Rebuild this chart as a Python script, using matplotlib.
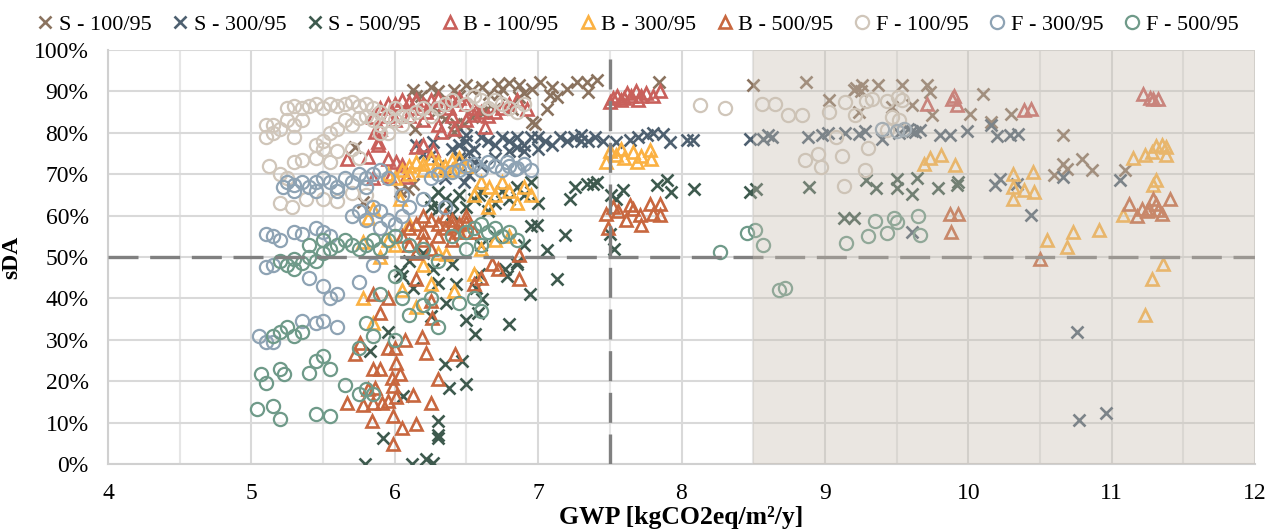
import matplotlib
matplotlib.use("Agg")
import matplotlib.pyplot as plt
from matplotlib.ticker import MultipleLocator, FuncFormatter

plt.rcParams['font.family'] = ['Liberation Serif', 'DejaVu Serif']

# --- data (GWP, sDA %) ---
s100_x = [6.13, 6.18, 6.25, 6.15, 6.41, 6.45, 6.54, 6.61, 6.66, 6.72, 6.73, 6.87, 6.96, 6.75, 7.01, 7.08, 7.13,
          7.06, 6.87, 6.98, 7.27, 7.34, 7.41, 7.35, 7.84, 6.27, 6.32, 6.29, 6.35, 6.43, 6.48, 6.14, 6.41, 6.54,
          6.60, 6.62, 6.69, 6.82, 6.96, 6.13, 6.09, 6.04, 5.78, 5.72, 6.30, 6.50, 6.80, 6.90, 7.10, 7.20,
          8.50, 8.87, 9.03, 9.20, 9.26, 9.37, 9.54, 9.71, 9.73, 9.47, 9.61, 9.24, 9.75, 10.01, 10.10, 10.16,
          10.30, 10.66, 10.66, 10.79, 10.86, 10.60, 11.09, 10.69, 9.22, 9.25]
s100_y = [90.4, 89.0, 91.0, 89.0, 90.4, 89.0, 90.4, 91.0, 89.4, 91.8, 89.4, 91.6, 90.6, 90.6, 92.3, 89.1, 88.7,
          85.8, 88.7, 82.2, 92.3, 92.3, 92.8, 89.9, 92.3, 86.0, 84.3, 85.0, 83.4, 82.2, 82.2, 81.0, 80.2, 83.9,
          85.0, 85.0, 85.8, 85.8, 82.6, 67.7, 66.5, 66.0, 63.4, 76.6, 90.0, 91.5, 92.0, 89.5, 91.0, 90.5,
          91.6, 92.3, 88.0, 90.4, 91.6, 91.6, 91.6, 91.6, 89.9, 86.3, 86.7, 85.1, 84.3, 84.6, 89.4, 82.6,
          84.6, 79.5, 72.5, 73.7, 71.1, 69.9, 71.1, 71.3, 90.8, 90.0]

s300_x = [6.25, 6.27, 6.30, 6.35, 6.40, 6.45, 6.45, 6.50, 6.52, 6.55, 6.55, 6.60, 6.60, 6.65, 6.70, 6.70, 6.75,
          6.80, 6.85, 6.90, 6.95, 7.00, 7.05, 7.10, 7.15, 7.20, 7.25, 7.30, 7.35, 7.40, 7.45, 7.54, 7.64, 7.70,
          7.76, 7.80, 7.87, 7.92, 8.04, 8.08, 6.90, 7.00, 6.80, 6.15, 6.20, 6.50, 6.85, 7.30, 6.52, 6.48,
          8.48, 8.57, 8.63, 8.60, 8.88, 8.98, 9.02, 9.14, 9.24, 9.28, 9.40, 9.52, 9.61, 9.66, 9.80, 9.87, 9.99,
          10.16, 10.20, 10.29, 10.35, 10.19, 10.22, 10.34, 10.66, 11.06, 10.44, 9.61, 10.76, 10.77, 10.96,
          9.63, 9.58]
s300_y = [74.7, 77.8, 72.0, 69.0, 76.0, 77.0, 74.0, 78.0, 75.4, 76.0, 73.0, 79.0, 72.0, 78.0, 77.0, 74.0, 79.0,
          78.0, 79.0, 77.0, 79.0, 79.0, 78.0, 77.0, 79.0, 78.0, 79.0, 79.5, 78.0, 79.0, 78.0, 77.8, 78.3, 79.0,
          79.5, 80.0, 79.8, 77.8, 78.3, 78.3, 75.5, 76.0, 75.5, 77.0, 75.0, 79.5, 76.5, 78.0, 69.9, 68.0,
          78.5, 78.5, 79.0, 79.5, 79.0, 79.5, 80.0, 80.0, 79.8, 80.5, 78.5, 80.0, 80.5, 80.7, 79.5, 79.5, 80.5,
          81.9, 79.3, 79.5, 79.8, 67.5, 68.9, 67.7, 69.4, 68.7, 60.2, 56.1, 32.0, 10.6, 12.3,
          80.2, 80.8]

s500_x = [6.25, 6.25, 6.30, 6.30, 6.35, 6.40, 6.45, 6.50, 6.55, 6.59, 6.60, 6.75, 6.80, 6.85, 6.90, 6.95, 7.00,
          7.22, 7.26, 7.34, 7.38, 7.41, 7.51, 7.54, 7.59, 7.83, 7.90, 7.93, 8.09, 6.70, 6.65, 6.40,
          6.99, 6.95, 7.19, 7.06, 7.13, 6.94, 6.85, 6.77, 6.85, 6.78, 6.59, 6.57, 6.43, 6.40, 6.27, 6.30, 6.13,
          6.04, 6.05, 6.36, 6.61, 6.25, 6.50, 6.58, 6.56, 6.80, 5.83, 5.95, 6.35, 6.47, 6.38, 6.50, 6.06, 6.30,
          6.30, 6.30, 6.12, 6.22, 6.27, 5.79, 5.92, 7.53, 7.50, 6.60, 6.70, 6.90, 6.20, 6.10,
          8.48, 8.52, 8.89, 9.13, 9.20, 9.29, 9.36, 9.50, 9.50, 9.61, 9.64, 9.79, 9.92, 9.93]
s500_y = [64.0, 62.0, 65.6, 61.5, 64.0, 63.0, 65.0, 62.0, 64.0, 65.0, 66.0, 66.0, 64.0, 67.0, 65.0, 68.0, 63.0,
          64.0, 67.0, 67.7, 67.7, 68.2, 65.0, 64.0, 66.3, 67.5, 68.7, 65.8, 66.5, 63.0, 61.0, 60.5,
          57.8, 57.5, 55.4, 51.8, 44.6, 41.0, 48.9, 47.0, 48.4, 45.3, 46.0, 42.4, 43.4, 48.2, 47.2, 43.6, 42.4,
          46.5, 45.3, 38.8, 39.8, 35.7, 34.9, 36.4, 31.3, 33.7, 27.2, 32.0, 24.1, 24.8, 18.3, 19.3, 16.4, 10.4,
          6.3, 7.0, 0.0, 1.2, 0.2, 0.0, 6.3, 52.0, 55.5, 53.0, 55.0, 53.0, 51.0, 49.0,
          65.8, 66.5, 67.0, 59.5, 59.5, 68.7, 66.7, 68.9, 66.7, 65.3, 69.2, 66.7, 67.5, 68.2]

b100_x = [5.67, 5.81, 5.85, 5.97, 5.95, 6.01, 6.08, 5.88, 5.90, 5.86, 5.85, 5.88, 6.55, 6.63, 6.41, 6.32,
          6.15, 6.20, 6.27, 6.05,
          5.90, 5.95, 6.00, 6.05, 6.10, 6.15, 6.20, 6.25, 6.30, 6.35, 6.40, 6.45, 6.50, 6.55, 6.60, 6.65, 6.70,
          6.75, 6.80, 6.85, 5.95, 6.00, 6.10, 6.20, 6.30, 6.40, 6.50, 6.92, 6.12, 6.22, 6.38,
          7.50, 7.55, 7.60, 7.65, 7.70, 7.75, 7.80, 7.85, 7.58, 7.68, 7.72, 7.52, 7.62,
          9.71, 9.89, 9.90, 9.92, 10.39, 10.44, 11.22, 11.29, 11.32, 11.27]
b100_y = [73.7, 74.2, 69.0, 69.4, 73.7, 73.0, 69.4, 77.0, 81.0, 80.2, 83.9, 77.8, 84.3, 81.4, 81.0, 80.2,
          76.6, 77.0, 75.9, 72.3,
          86.0, 87.0, 87.0, 88.0, 87.5, 88.0, 87.0, 88.0, 88.5, 87.0, 88.0, 88.5, 87.0, 86.0, 85.0, 84.0, 85.0,
          86.0, 87.0, 88.0, 84.0, 83.0, 84.0, 83.0, 82.0, 84.0, 83.0, 85.8, 86.0, 85.0, 86.0,
          87.5, 89.0, 88.5, 89.0, 88.0, 89.5, 89.0, 90.0, 88.0, 90.0, 89.0, 88.5, 89.5,
          87.0, 88.2, 89.0, 86.7, 85.5, 85.8, 89.4, 88.2, 88.2, 88.5]

b300_x = [6.05, 6.10, 6.15, 6.20, 6.25, 6.30, 6.35, 6.40, 6.45, 6.50, 5.95, 6.00, 6.10, 6.20, 6.30, 6.40,
          6.04, 6.55, 6.66, 6.75, 6.80, 6.90, 6.95, 6.85, 6.60, 6.70, 6.65,
          5.95, 5.85, 5.81, 5.78, 5.90, 6.00, 6.10, 6.36, 6.30, 6.25, 6.41, 5.78, 5.85, 6.20, 6.05, 6.15, 6.60,
          6.70, 6.55, 6.50, 6.80,
          7.47, 7.54, 7.66, 7.78, 7.79, 7.69, 7.50, 7.60, 7.72, 7.58,
          9.69, 9.73, 9.81, 9.91, 10.31, 10.31, 10.31, 10.39, 10.45, 10.46, 10.55, 10.69, 10.73, 10.91, 11.08,
          11.15, 11.23, 11.28, 11.31, 11.35, 11.38, 11.38, 11.29, 11.31, 11.36, 11.28, 11.23]
b300_y = [71.0, 72.0, 73.0, 72.5, 74.0, 73.0, 72.0, 73.5, 74.0, 72.0, 70.0, 69.0, 70.0, 71.0, 71.0, 71.0,
          64.0, 65.0, 67.0, 68.0, 66.0, 67.0, 65.0, 63.0, 68.0, 65.0, 62.0,
          54.0, 61.7, 59.3, 53.7, 50.0, 53.0, 58.0, 50.8, 51.0, 43.4, 41.7, 40.0, 34.0, 48.0, 42.0, 38.0, 52.0,
          54.0, 46.0, 56.0, 55.0,
          73.0, 74.7, 75.4, 75.9, 73.7, 73.0, 75.5, 74.0, 74.5, 76.0,
          72.5, 74.0, 74.7, 72.3, 70.1, 67.0, 63.9, 66.3, 70.6, 65.8, 54.2, 52.3, 56.1, 56.6, 60.2,
          74.0, 74.7, 75.4, 76.9, 77.1, 76.6, 74.7, 67.5, 68.7, 48.4, 44.8, 36.1]

b500_x = [6.10, 6.15, 6.20, 6.25, 6.30, 6.35, 6.40, 6.45, 6.50, 6.55, 6.05, 6.20, 6.30, 6.40, 6.45, 6.35,
          6.20, 6.10, 6.15, 6.25, 6.50, 6.40,
          5.85, 5.90, 5.76, 5.72, 5.95, 6.00, 6.07, 6.19, 6.22, 6.42, 5.85, 5.90, 6.01, 6.04, 5.99, 5.86, 5.67,
          5.78, 5.85, 5.91, 5.95, 6.01, 6.13, 5.84, 5.99, 6.05, 6.15, 5.99, 6.25, 6.30, 5.98, 5.81, 6.15, 6.55,
          6.68, 6.72, 6.87, 6.87, 6.26, 6.25, 6.60, 5.95,
          7.47, 7.49, 7.56, 7.61, 7.66, 7.71, 7.72, 7.78, 7.85, 7.85, 7.80, 7.52, 7.64,
          9.87, 9.93, 9.88, 10.50, 11.12, 11.18, 11.21, 11.25, 11.29, 11.31, 11.32, 11.35, 11.41, 11.26]
b500_y = [57.0, 58.0, 56.0, 59.0, 58.0, 57.0, 59.0, 58.0, 60.0, 56.0, 55.0, 54.0, 55.0, 54.0, 56.0, 60.0,
          60.0, 53.0, 51.0, 52.0, 58.5, 57.5,
          41.0, 36.4, 29.2, 26.5, 28.0, 28.0, 29.9, 30.6, 26.7, 26.5, 22.9, 22.9, 24.3, 21.7, 18.8, 18.3, 14.7,
          14.2, 14.7, 14.7, 15.2, 16.1, 16.6, 10.4, 11.6, 8.7, 9.6, 4.8, 14.7, 20.5, 20.7, 18.1, 44.8, 43.4,
          48.4, 47.2, 44.8, 50.6, 35.2, 39.3, 45.0, 40.0,
          60.5, 56.9, 61.0, 59.0, 61.7, 60.2, 57.8, 62.7, 62.9, 60.2, 60.5, 62.0, 62.5,
          60.5, 60.5, 56.0, 49.6, 62.9, 59.8, 61.7, 61.0, 64.1, 62.9, 61.4, 60.5, 64.1, 61.7]

f100_x = [5.25, 5.30, 5.35, 5.40, 5.45, 5.50, 5.55, 5.60, 5.65, 5.70, 5.75, 5.80, 5.85, 5.90,
          5.10, 5.15, 5.20, 5.10, 5.15, 5.25, 5.30, 5.35, 5.30, 5.50, 5.55, 5.45, 5.60, 5.65, 5.70, 5.75, 5.80,
          5.85, 5.90, 5.95, 6.00, 6.05, 6.10, 5.90, 5.95,
          5.12, 5.20, 5.25, 5.30, 5.35, 5.45, 5.55, 5.50, 5.60, 5.70, 5.75, 5.20, 5.28, 5.38, 5.50, 5.60, 5.70,
          5.80,
          6.15, 6.20, 6.25, 6.30, 6.35, 6.40, 6.50, 6.55, 6.60, 6.65, 6.70, 6.75, 6.80, 6.85, 6.90, 6.00, 6.05,
          8.13, 8.30,
          8.56, 8.65, 8.74, 8.84, 9.03, 9.14, 9.21, 9.29, 9.33, 9.43, 9.51, 9.54, 9.47, 9.52, 9.43, 9.08, 8.86,
          8.95, 8.97, 9.12, 9.30, 9.28, 9.13]
f100_y = [86.0, 86.5, 86.0, 86.5, 87.0, 86.0, 87.0, 86.5, 87.0, 87.5, 86.5, 87.0, 86.0, 85.0,
          82.0, 82.0, 81.0, 79.0, 80.0, 83.0, 82.0, 83.0, 79.0, 78.0, 80.0, 77.0, 81.0, 83.0, 82.0, 83.5, 84.0,
          83.0, 82.0, 84.0, 83.0, 82.0, 84.0, 80.0, 80.0,
          72.0, 70.0, 69.0, 73.0, 73.5, 74.0, 73.0, 76.0, 75.5, 76.0, 74.0, 63.0, 62.0, 64.0, 64.0, 63.5, 65.5,
          65.0,
          85.0, 86.0, 84.0, 86.0, 87.0, 88.0, 87.0, 89.0, 88.0, 86.0, 88.0, 87.0, 86.0, 85.0, 87.0, 86.0, 84.0,
          86.7, 86.0,
          87.0, 87.0, 84.3, 84.3, 85.0, 87.5, 84.3, 87.7, 88.2, 87.7, 88.7, 88.0, 83.9, 83.1, 80.7, 79.0, 73.5,
          75.0, 71.8, 74.5, 76.4, 71.1, 67.2]

f300_x = [5.22, 5.25, 5.30, 5.35, 5.40, 5.45, 5.50, 5.55, 5.60, 5.65, 5.70, 5.75, 5.80, 5.85, 5.90, 5.95,
          5.30, 5.45, 5.60, 5.80,
          5.10, 5.15, 5.20, 5.30, 5.35, 5.45, 5.50, 5.55, 5.70, 5.75, 5.80, 5.85, 5.90, 5.95, 6.00, 6.05, 5.90,
          5.10, 5.15, 5.40, 5.50, 5.55, 5.60, 5.75, 5.85, 5.50, 5.45, 5.35, 5.60, 5.05, 5.10, 5.15,
          6.25, 6.30, 6.40, 6.45, 6.50, 6.55, 6.60, 6.65, 6.70, 6.75, 6.80, 6.85, 6.90, 6.95, 6.35, 6.05, 6.10,
          6.20, 6.78, 6.84,
          9.40, 9.50, 9.55]
f300_y = [67.0, 68.0, 67.5, 68.0, 67.0, 68.0, 69.0, 68.0, 67.0, 69.0, 68.0, 70.0, 69.0, 70.0, 71.0, 69.0,
          66.0, 66.0, 66.0, 67.0,
          55.5, 55.0, 54.0, 56.0, 55.5, 57.0, 56.0, 55.0, 60.0, 61.0, 59.0, 62.0, 61.0, 59.0, 58.0, 60.0, 57.0,
          47.5, 48.0, 45.0, 43.0, 40.0, 41.0, 44.0, 48.0, 34.5, 34.0, 34.5, 33.0, 31.0, 29.5, 29.5,
          69.0, 70.0, 70.5, 71.0, 72.0, 72.5, 71.0, 73.0, 72.0, 71.0, 72.0, 71.5, 72.5, 71.0, 62.0, 65.0, 62.0,
          64.0, 73.0, 71.3,
          81.0, 80.5, 81.0]

f500_x = [5.20, 5.25, 5.30, 5.35, 5.40, 5.45, 5.50, 5.55, 5.60, 5.65, 5.70, 5.75, 5.80, 5.85, 5.90, 5.95,
          6.00, 5.40, 5.50, 5.30,
          6.40, 6.50, 6.55, 6.60, 6.65, 6.70, 6.75, 6.80, 6.85, 6.60, 6.50, 6.20, 6.10, 6.30, 6.00, 5.90, 6.05,
          6.10, 6.20, 6.25, 6.45, 6.55, 6.60, 6.30, 5.80, 5.85, 6.00,
          5.15, 5.20, 5.25, 5.30, 5.35, 5.07, 5.10, 5.20, 5.23, 5.40, 5.45, 5.50, 5.55, 5.04, 5.15, 5.20, 5.45,
          5.55, 5.65, 5.75, 5.80, 5.85, 5.75,
          8.27, 8.46, 8.51, 8.57, 8.68, 8.72,
          9.15, 9.30, 9.35, 9.43, 9.48, 9.50, 9.65, 9.66]
f500_y = [49.0, 48.0, 49.5, 48.5, 50.0, 49.0, 51.0, 52.0, 53.0, 54.0, 53.0, 52.0, 53.0, 54.0, 52.0, 54.0,
          55.0, 53.0, 54.0, 47.0,
          55.0, 56.0, 57.0, 58.0, 56.0, 57.0, 55.0, 56.0, 54.0, 53.0, 52.0, 52.0, 53.0, 49.0, 45.5, 41.0, 40.0,
          36.0, 38.5, 40.0, 39.0, 40.0, 37.0, 33.0, 34.0, 31.0, 30.0,
          31.0, 32.0, 33.0, 31.0, 32.0, 21.7, 19.5, 22.9, 21.7, 22.0, 25.0, 26.0, 23.0, 13.2, 14.0, 10.8, 12.0,
          11.5, 19.0, 28.0, 18.0, 17.0, 17.0,
          51.3, 55.7, 56.6, 53.0, 42.0, 42.5,
          53.3, 55.0, 58.8, 55.7, 59.3, 58.5, 60.0, 55.4]

labels = ['S - 100/95', 'S - 300/95', 'S - 500/95',
          'B - 100/95', 'B - 300/95', 'B - 500/95',
          'F - 100/95', 'F - 300/95', 'F - 500/95']
colors = ['#8b735f', '#4e6070', '#3e5a4e',
          '#c9605b', '#fbb142', '#c8673f',
          '#d0c6ba', '#8ea3b4', '#6f9a89']
markers = ['x', 'x', 'x', '^', '^', '^', 'o', 'o', 'o']
series = [(s100_x, s100_y), (s300_x, s300_y), (s500_x, s500_y),
          (b100_x, b100_y), (b300_x, b300_y), (b500_x, b500_y),
          (f100_x, f100_y), (f300_x, f300_y), (f500_x, f500_y)]

fig = plt.figure(figsize=(12.77, 5.29), dpi=100)
ax = fig.add_axes([108 / 1277, 1 - 464 / 529, (1255 - 108) / 1277, (464 - 50) / 529])

for (xs, ys), lab, c, m in zip(series, labels, colors, markers):
    if m == 'x':
        ax.plot(xs, ys, ls='none', marker='x', ms=8.5, mew=1.9, color=c, label=lab, zorder=3)
    elif m == '^':
        ax.plot(xs, ys, ls='none', marker='^', ms=9, mew=1.9, mfc='none', mec=c, label=lab, zorder=3)
    else:
        ax.plot(xs, ys, ls='none', marker='o', ms=9.5, mew=1.6, mfc='none', mec=c, label=lab, zorder=3)

# thresholds
ax.axhline(50, color='#808080', lw=2.4, dashes=(9, 3.5), zorder=4)
ax.axvline(7.5, color='#808080', lw=2.4, dashes=(9, 3.5), zorder=4)
# shaded zone
ax.axvspan(8.5, 12, color='#c9bfb2', alpha=0.38, lw=0, zorder=5)

ax.set_xlim(4, 12)
ax.set_ylim(0, 100)
ax.xaxis.set_major_locator(MultipleLocator(1))
ax.xaxis.set_minor_locator(MultipleLocator(0.5))
ax.yaxis.set_major_locator(MultipleLocator(10))
ax.yaxis.set_major_formatter(FuncFormatter(lambda v, p: f"{v:.0f}%"))
ax.grid(which='major', color='#d9d9d9', lw=1.5, zorder=0)
ax.grid(which='minor', axis='x', color='#e6e6e6', lw=1.5, zorder=0)
ax.set_axisbelow(True)
for s in ['top', 'right']:
    ax.spines[s].set_visible(False)
for s in ['left', 'bottom']:
    ax.spines[s].set_color('#d0d0d0')
    ax.spines[s].set_linewidth(1.5)
ax.tick_params(which='both', length=0, labelsize=17, colors='black')
ax.tick_params(axis='x', pad=14)
ax.tick_params(axis='y', pad=14)

ax.set_xlabel('GWP [kgCO2eq/m²/y]', fontsize=18.5, fontweight='bold', labelpad=1)
ax.set_ylabel('sDA', fontsize=17, fontweight='bold', labelpad=8)

fig.legend(loc='upper center', bbox_to_anchor=(0.5, 1.0), ncol=9, frameon=False, fontsize=16,
           handlelength=0.6, handletextpad=0.3, columnspacing=1.0, borderaxespad=0.25)

fig.savefig('out.png', dpi=100)
